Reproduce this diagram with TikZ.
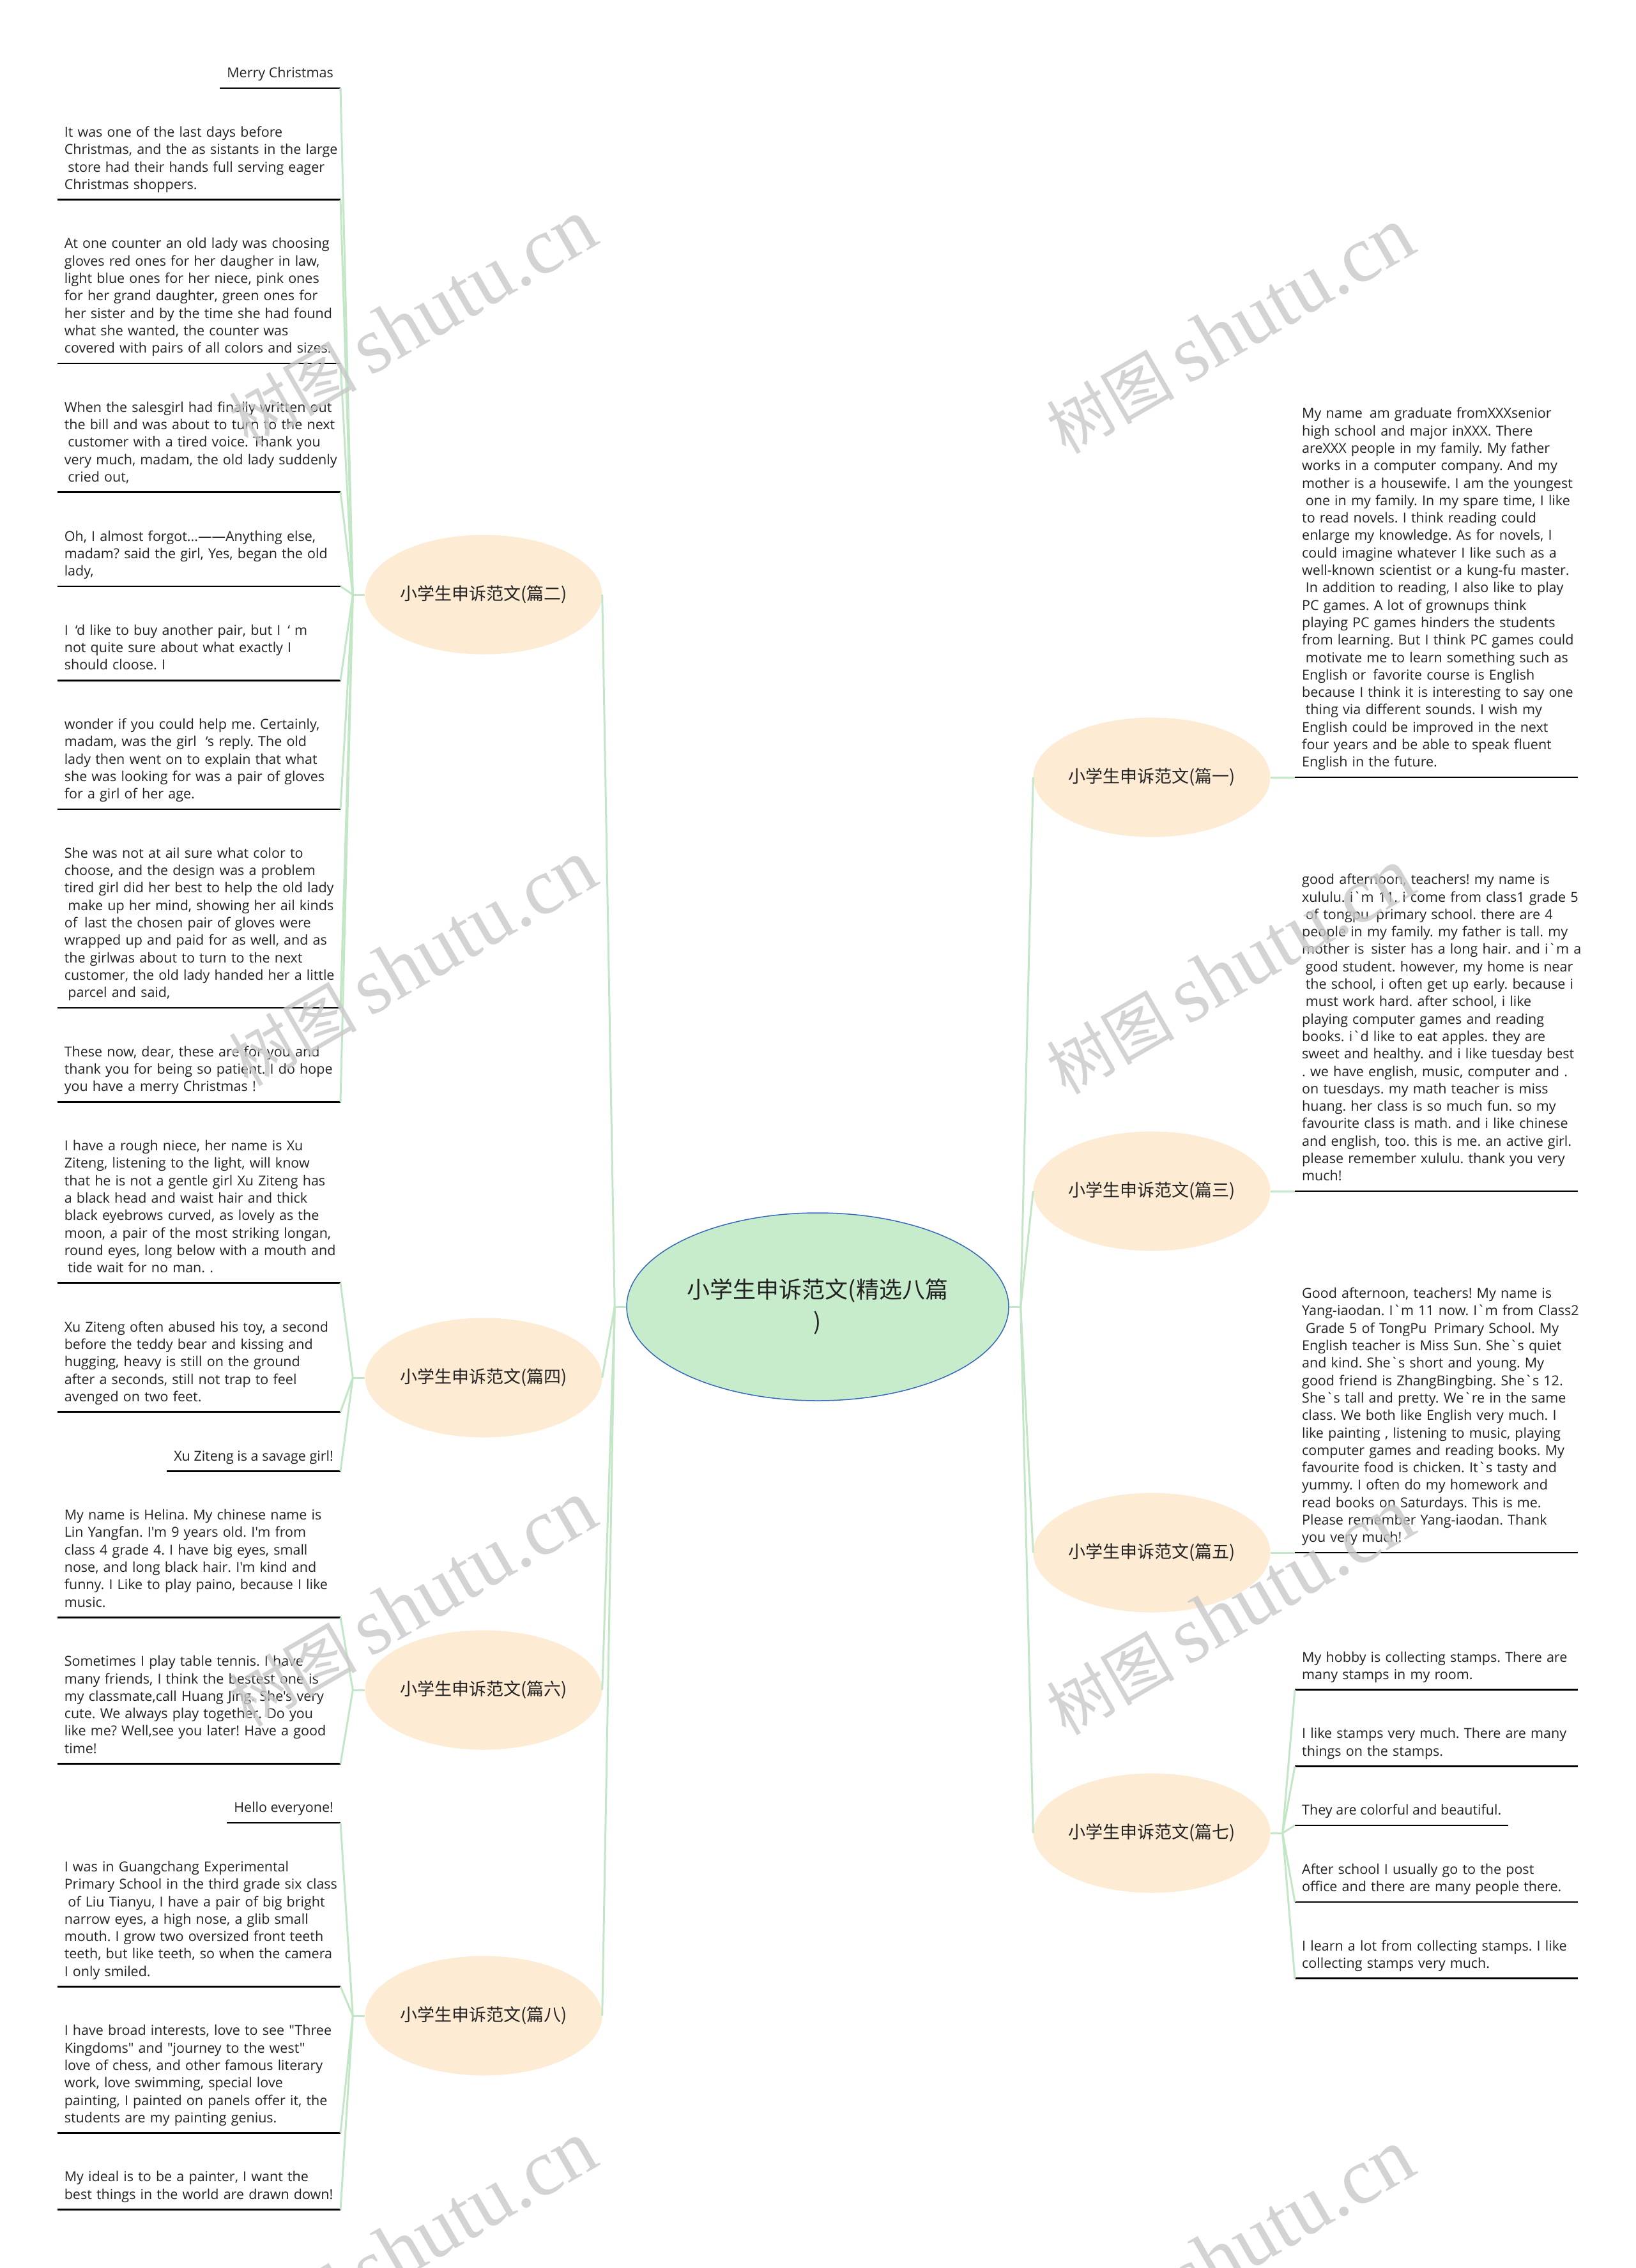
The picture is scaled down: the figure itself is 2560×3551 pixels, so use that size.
\documentclass[tikz,border=0pt]{standalone}
\usepackage{fontspec}
\usetikzlibrary{shapes.geometric}
\newfontfamily\cjk{Noto Sans CJK SC}
\newfontfamily\wmlat{Liberation Serif}
\font\leaffnt="Open Sans" at 21.5pt
\def\mystrutx{\vrule height 19pt depth 8.3pt width 0pt}
\def\mlx#1{\mbox{#1}}
\def\lsx{\hspace*{5.6pt}}
\def\dsx{\hspace{11pt}}
\definecolor{lnk}{RGB}{194,230,198}
\definecolor{cfill}{RGB}{199,236,203}
\definecolor{cborder}{RGB}{52,104,188}
\definecolor{bfill}{RGB}{253,235,211}
\definecolor{txt}{RGB}{35,35,35}
\definecolor{wmc}{RGB}{200,200,200}
\def\wmtext{{\cjk\fontsize{100}{100}\selectfont 树图}\hspace{20pt}{\wmlat\fontsize{125}{125}\selectfont shutu.cn}}
\tikzset{
  conn/.style={draw=lnk, line width=3pt},
  uline/.style={draw=black, line width=2.8pt},
  leafL/.style={font={\leaffnt\frenchspacing\baselineskip=27.3pt\relax}, text=txt, text width=421pt, align=left, inner xsep=11pt, inner ysep=7.7pt, anchor=south east},
  leafR/.style={leafL, anchor=south west},
  shortL/.style={font={\leaffnt\frenchspacing\baselineskip=27.3pt\relax}, text=txt, inner xsep=11pt, inner ysep=7.7pt, anchor=south east},
  shortR/.style={shortL, anchor=south west},
  branch/.style={ellipse, fill=bfill, minimum width=371pt, minimum height=187pt, inner sep=0pt, text=txt, font={\cjk\fontsize{27}{32}\selectfont}},
  hub/.style={ellipse, fill=cfill, draw=cborder, line width=1.5pt, minimum width=598pt, minimum height=294pt, inner sep=0pt, align=center, text=txt, font={\cjk\fontsize{36}{50}\selectfont}},
  wm/.style={rotate=30, text=wmc, text opacity=0.8, inner sep=0pt}
}
\begin{document}
\begin{tikzpicture}[x=1pt,y=-1pt]
\useasboundingbox (0,0) rectangle (2560,3551);
\fill[white] (0,0) rectangle (2560,3551);

% centre and branches
\node[hub] (c) at (1280,2046) {小学生申诉范文(精选八篇\\)};
\node[branch] (b2) at (757,931) {小学生申诉范文(篇二)};
\node[branch] (b4) at (757,2157) {小学生申诉范文(篇四)};
\node[branch] (b6) at (757,2646) {小学生申诉范文(篇六)};
\node[branch] (b8) at (757,3156) {小学生申诉范文(篇八)};
\node[branch] (b1) at (1803,1217) {小学生申诉范文(篇一)};
\node[branch] (b3) at (1803,1865) {小学生申诉范文(篇三)};
\node[branch] (b5) at (1803,2431) {小学生申诉范文(篇五)};
\node[branch] (b7) at (1803,2870) {小学生申诉范文(篇七)};

% left leaves
\node[shortL] (l1) at (533,138) {Merry Christmas\mystrutx};
\node[leafL] (l2) at (533,312.5) {\mlx{It was one of the last days before}\\\mlx{Christmas, and the as sistants in the large}\\\mlx{\lsx store had their hands full serving eager}\\\mlx{Christmas shoppers.}\mystrutx};
\node[leafL] (l3) at (533,568.9) {\mlx{At one counter an old lady was choosing}\\\mlx{gloves red ones for her daugher in law,}\\\mlx{light blue ones for her niece, pink ones}\\\mlx{for her grand daughter, green ones for}\\\mlx{her sister and by the time she had found}\\\mlx{what she wanted, the counter was}\\\mlx{covered with pairs of all colors and sizes.}\mystrutx};
\node[leafL] (l4) at (533,770.7) {\mlx{When the salesgirl had finally written out}\\\mlx{the bill and was about to turn to the next}\\\mlx{\lsx customer with a tired voice. Thank you}\\\mlx{very much, madam, the old lady suddenly}\\\mlx{\lsx cried out,}\mystrutx};
\node[leafL] (l5) at (533,917.9) {\mlx{Oh, I almost forgot...——Anything else,}\\\mlx{madam? said the girl, Yes, began the old}\\\mlx{lady,}\mystrutx};
\node[leafL] (l6) at (533,1065.1) {\mlx{I\hspace{11pt}‘d like to buy another pair, but I\hspace{11pt}‘ m}\\\mlx{not quite sure about what exactly I}\\\mlx{should cloose. I}\mystrutx};
\node[leafL] (l7) at (533,1266.9) {\mlx{wonder if you could help me. Certainly,}\\\mlx{madam, was the girl\hspace{14pt}‘s reply. The old}\\\mlx{lady then went on to explain that what}\\\mlx{she was looking for was a pair of gloves}\\\mlx{for a girl of her age.}\mystrutx};
\node[leafL] (l8) at (533,1577.9) {\mlx{She was not at ail sure what color to}\\\mlx{choose, and the design was a problem}\\\mlx{tired girl did her best to help the old lady}\\\mlx{\lsx make up her mind, showing her ail kinds}\\\mlx{of\dsx last the chosen pair of gloves were}\\\mlx{wrapped up and paid for as well, and as}\\\mlx{the girlwas about to turn to the next}\\\mlx{customer, the old lady handed her a little}\\\mlx{\lsx parcel and said,}\mystrutx};
\node[leafL] (l9) at (533,1725.1) {\mlx{These now, dear, these are for you and}\\\mlx{thank you for being so patient. I do hope}\\\mlx{you have a merry Christmas !}\mystrutx};
\node[leafL] (l10) at (533,2008.8) {\mlx{I have a rough niece, her name is Xu}\\\mlx{Ziteng, listening to the light, will know}\\\mlx{that he is not a gentle girl Xu Ziteng has}\\\mlx{a black head and waist hair and thick}\\\mlx{black eyebrows curved, as lovely as the}\\\mlx{moon, a pair of the most striking longan,}\\\mlx{round eyes, long below with a mouth and}\\\mlx{\lsx tide wait for no man. .}\mystrutx};
\node[leafL] (l11) at (533,2210.6) {\mlx{Xu Ziteng often abused his toy, a second}\\\mlx{before the teddy bear and kissing and}\\\mlx{hugging, heavy is still on the ground}\\\mlx{after a seconds, still not trap to feel}\\\mlx{avenged on two feet.}\mystrutx};
\node[shortL] (l12) at (533,2303.2) {Xu Ziteng is a savage girl!\mystrutx};
\node[leafL] (l13) at (533,2532.3) {\mlx{My name is Helina. My chinese name is}\\\mlx{Lin Yangfan. I'm 9 years old. I'm from}\\\mlx{class 4 grade 4. I have big eyes, small}\\\mlx{nose, and long black hair. I'm kind and}\\\mlx{funny. I Like to play paino, because I like}\\\mlx{music.}\mystrutx};
\node[leafL] (l14) at (533,2761.4) {\mlx{Sometimes I play table tennis. I have}\\\mlx{many friends, I think the bestest one is}\\\mlx{my classmate,call Huang Jing. She's very}\\\mlx{cute. We always play together. Do you}\\\mlx{like me? Well,see you later! Have a good}\\\mlx{time!}\mystrutx};
\node[shortL] (l15) at (533,2854) {Hello everyone!\mystrutx};
\node[leafL] (l16) at (533,3110.4) {\mlx{I was in Guangchang Experimental}\\\mlx{Primary School in the third grade six class}\\\mlx{\lsx of Liu Tianyu, I have a pair of big bright}\\\mlx{narrow eyes, a high nose, a glib small}\\\mlx{mouth. I grow two oversized front teeth}\\\mlx{teeth, but like teeth, so when the camera}\\\mlx{I only smiled.}\mystrutx};
\node[leafL] (l17) at (533,3339.5) {\mlx{I have broad interests, love to see "Three}\\\mlx{Kingdoms" and "journey to the west"}\\\mlx{love of chess, and other famous literary}\\\mlx{work, love swimming, special love}\\\mlx{painting, I painted on panels offer it, the}\\\mlx{students are my painting genius.}\mystrutx};
\node[leafL] (l18) at (533,3459.4) {\mlx{My ideal is to be a painter, I want the}\\\mlx{best things in the world are drawn down!}\mystrutx};

% right leaves
\node[leafR] (r1) at (2027,1217) {\mlx{My name\dsx am graduate fromXXXsenior}\\\mlx{high school and major inXXX. There}\\\mlx{areXXX people in my family. My father}\\\mlx{works in a computer company. And my}\\\mlx{mother is a housewife. I am the youngest}\\\mlx{\lsx one in my family. In my spare time, I like}\\\mlx{to read novels. I think reading could}\\\mlx{enlarge my knowledge. As for novels, I}\\\mlx{could imagine whatever I like such as a}\\\mlx{well-known scientist or a kung-fu master.}\\\mlx{\lsx In addition to reading, I also like to play}\\\mlx{PC games. A lot of grownups think}\\\mlx{playing PC games hinders the students}\\\mlx{from learning. But I think PC games could}\\\mlx{\lsx motivate me to learn something such as}\\\mlx{English or\dsx favorite course is English}\\\mlx{because I think it is interesting to say one}\\\mlx{\lsx thing via different sounds. I wish my}\\\mlx{English could be improved in the next}\\\mlx{four years and be able to speak fluent}\\\mlx{English in the future.}\mystrutx};
\node[leafR] (r2) at (2027,1865) {\mlx{good afternoon, teachers! my name is}\\\mlx{xululu. i`m 11. i come from class1 grade 5}\\\mlx{\lsx of tongpu\dsx primary school. there are 4}\\\mlx{people in my family. my father is tall. my}\\\mlx{mother is\dsx sister has a long hair. and i`m a}\\\mlx{\lsx good student. however, my home is near}\\\mlx{\lsx the school, i often get up early. because i}\\\mlx{\lsx must work hard. after school, i like}\\\mlx{playing computer games and reading}\\\mlx{books. i`d like to eat apples. they are}\\\mlx{sweet and healthy. and i like tuesday best}\\\mlx{. we have english, music, computer and .}\\\mlx{on tuesdays. my math teacher is miss}\\\mlx{huang. her class is so much fun. so my}\\\mlx{favourite class is math. and i like chinese}\\\mlx{and english, too. this is me. an active girl.}\\\mlx{please remember xululu. thank you very}\\\mlx{much!}\mystrutx};
\node[leafR] (r3) at (2027,2431) {\mlx{Good afternoon, teachers! My name is}\\\mlx{Yang-iaodan. I`m 11 now. I`m from Class2}\\\mlx{\lsx Grade 5 of TongPu\dsx Primary School. My}\\\mlx{English teacher is Miss Sun. She`s quiet}\\\mlx{and kind. She`s short and young. My}\\\mlx{good friend is ZhangBingbing. She`s 12.}\\\mlx{She`s tall and pretty. We`re in the same}\\\mlx{class. We both like English very much. I}\\\mlx{like painting , listening to music, playing}\\\mlx{computer games and reading books. My}\\\mlx{favourite food is chicken. It`s tasty and}\\\mlx{yummy. I often do my homework and}\\\mlx{read books on Saturdays. This is me.}\\\mlx{Please remember Yang-iaodan. Thank}\\\mlx{you very much!}\mystrutx};
\node[leafR] (r4) at (2027,2645.5) {\mlx{My hobby is collecting stamps. There are}\\\mlx{many stamps in my room.}\mystrutx};
\node[leafR] (r5) at (2027,2765.4) {\mlx{I like stamps very much. There are many}\\\mlx{things on the stamps.}\mystrutx};
\node[shortR] (r6) at (2027,2858) {They are colorful and beautiful.\mystrutx};
\node[leafR] (r7) at (2027,2977.9) {\mlx{After school I usually go to the post}\\\mlx{office and there are many people there.}\mystrutx};
\node[leafR] (r8) at (2027,3097.8) {\mlx{I learn a lot from collecting stamps. I like}\\\mlx{collecting stamps very much.}\mystrutx};

% underlines
\foreach \n in {l1,l2,l3,l4,l5,l6,l7,l8,l9,l10,l11,l12,l13,l14,l15,l16,l17,l18,r1,r2,r3,r4,r5,r6,r7,r8}
  \draw[uline] (\n.south west) -- (\n.south east);

% centre connectors
\path (c.west) ++(-18,0) coordinate (cL);
\path (c.east) ++(18,0) coordinate (cR);
\draw[conn] (c.west) -- (cL);
\draw[conn] (c.east) -- (cR);
\foreach \b in {b2,b4,b6,b8} \draw[conn] (cL) -- (\b.east);
\foreach \b in {b1,b3,b5,b7} \draw[conn] (cR) -- (\b.west);

% branch stubs
\path (b2.west) ++(-19,0) coordinate (s2);
\path (b4.west) ++(-19,0) coordinate (s4);
\path (b6.west) ++(-19,0) coordinate (s6);
\path (b8.west) ++(-19,0) coordinate (s8);
\path (b1.east) ++(19,0) coordinate (s1);
\path (b3.east) ++(19,0) coordinate (s3);
\path (b5.east) ++(19,0) coordinate (s5);
\path (b7.east) ++(19,0) coordinate (s7);
\draw[conn] (b2.west) -- (s2);
\draw[conn] (b4.west) -- (s4);
\draw[conn] (b6.west) -- (s6);
\draw[conn] (b8.west) -- (s8);
\draw[conn] (b1.east) -- (s1);
\draw[conn] (b3.east) -- (s3);
\draw[conn] (b5.east) -- (s5);
\draw[conn] (b7.east) -- (s7);

% leaf connectors
\foreach \n in {l1,l2,l3,l4,l5,l6,l7,l8,l9} \draw[conn] (s2) -- (\n.south east);
\foreach \n in {l10,l11,l12} \draw[conn] (s4) -- (\n.south east);
\foreach \n in {l13,l14} \draw[conn] (s6) -- (\n.south east);
\foreach \n in {l15,l16,l17,l18} \draw[conn] (s8) -- (\n.south east);
\draw[conn] (s1) -- (r1.south west);
\draw[conn] (s3) -- (r2.south west);
\draw[conn] (s5) -- (r3.south west);
\foreach \n in {r4,r5,r6,r7,r8} \draw[conn] (s7) -- (\n.south west);

% watermarks
\node[wm] (w1) at (646,505) {\wmtext};
\node[wm] (w2) at (1926,518) {\wmtext};
\node[wm] (w3) at (646,1508) {\wmtext};
\node[wm] (w4) at (1926,1521) {\wmtext};
\node[wm] (w5) at (646,2511) {\wmtext};
\node[wm] (w6) at (1926,2524) {\wmtext};
\node[wm] (w7) at (646,3514) {\wmtext};
\node[wm] (w8) at (1926,3527) {\wmtext};
\end{tikzpicture}
\end{document}
